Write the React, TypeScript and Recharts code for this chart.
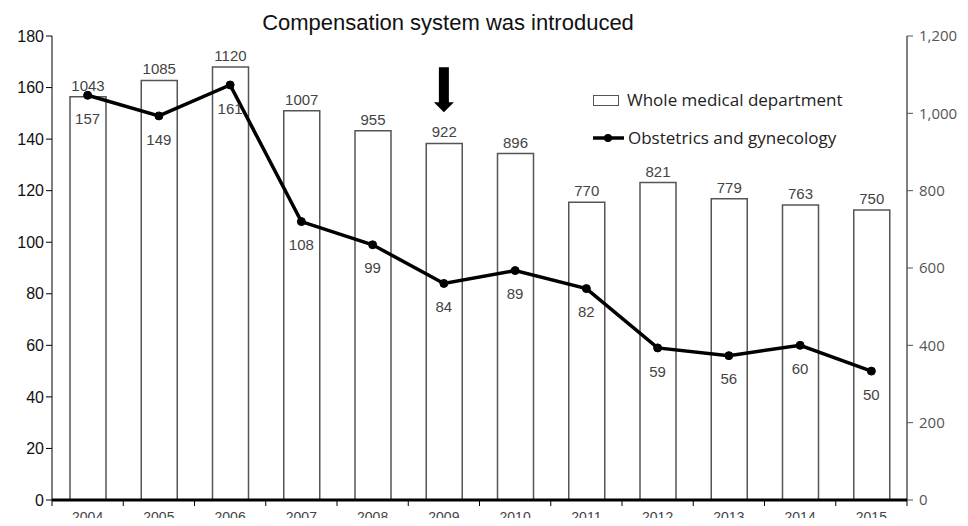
import {
  Bar,
  ComposedChart,
  LabelList,
  Line,
  ReferenceDot,
  XAxis,
  YAxis,
} from "recharts";

const years = ["2004", "2005", "2006", "2007", "2008", "2009", "2010", "2011", "2012", "2013", "2014", "2015"];
const wholeDept = [1043, 1085, 1120, 1007, 955, 922, 896, 770, 821, 779, 763, 750];
const obgyn = [157, 149, 161, 108, 99, 84, 89, 82, 59, 56, 60, 50];
const leftTicks = [0, 20, 40, 60, 80, 100, 120, 140, 160, 180];
const rightTicks = [0, 200, 400, 600, 800, 1000, 1200];
const introducedYear = "2009";

const data = years.map((year, i) => ({ year, whole: wholeDept[i], obgyn: obgyn[i] }));

const W = 968;
const H = 526;
const LEFT_W = 52;
const RIGHT_W = 61;
const X_H = 26;
const BAND = (W - LEFT_W - RIGHT_W) / years.length;

const ARIAL = "'Liberation Sans', Arial, sans-serif";
const SEGOE = "'Open Sans', 'Noto Sans', sans-serif";

function YearTick(props: any) {
  const { x, payload, index } = props;
  const axisY = H - X_H;
  const last = index === years.length - 1;
  return (
    <g>
      <line x1={x - BAND / 2} x2={x - BAND / 2} y1={axisY} y2={axisY + 6} stroke="#000" strokeWidth={1} />
      {last && (
        <line x1={x + BAND / 2} x2={x + BAND / 2} y1={axisY} y2={axisY + 6} stroke="#000" strokeWidth={1} />
      )}
      <text x={x} y={axisY + 22} textAnchor="middle" fill="#444" fontSize={14} fontFamily={ARIAL}>
        {payload.value}
      </text>
    </g>
  );
}

function Arrow(props: any) {
  const { cx, cy } = props;
  if (cx == null || cy == null) return null;
  return (
    <polygon
      points={`${cx - 5},${cy - 45} ${cx + 5},${cy - 45} ${cx + 5},${cy - 10} ${cx + 10},${cy - 10} ${cx},${cy} ${cx - 10},${cy - 10} ${cx - 5},${cy - 10}`}
      fill="#000"
    />
  );
}

function ChartLegend() {
  return (
    <div
      style={{
        position: "absolute",
        left: 593,
        top: 90,
        fontFamily: SEGOE,
        fontSize: 17,
        color: "#222",
        lineHeight: "20px",
        zIndex: 1,
      }}
    >
      <div style={{ display: "flex", alignItems: "center", height: 20 }}>
        <span style={{ display: "inline-block", width: 24, height: 9, border: "1px solid #555", background: "#fff", marginRight: 8 }} />
        Whole medical department
      </div>
      <div style={{ display: "flex", alignItems: "center", height: 20, marginTop: 18 }}>
        <svg width={31} height={10} style={{ marginRight: 4 }}>
          <line x1={0} x2={31} y1={5} y2={5} stroke="#000" strokeWidth={3.5} />
          <circle cx={15} cy={5} r={4} fill="#000" />
        </svg>
        Obstetrics and gynecology
      </div>
    </div>
  );
}

export default function App() {
  return (
    <div style={{ position: "relative", width: W, height: H, margin: -8, background: "#fff" }}>
      <div
        style={{
          position: "absolute",
          left: 0,
          width: 896,
          top: 9,
          textAlign: "center",
          fontFamily: ARIAL,
          fontSize: 22,
          color: "#111",
          lineHeight: "28px",
          zIndex: 1,
        }}
      >
        Compensation system was introduced
      </div>
      <ChartLegend />
      <ComposedChart
        width={W}
        height={H}
        data={data}
        margin={{ top: 36, right: 0, bottom: 0, left: 0 }}
        style={{ fontFamily: ARIAL }}
      >
        <XAxis
          dataKey="year"
          height={X_H}
          axisLine={{ stroke: "#000", strokeWidth: 3 }}
          tickLine={false}
          tick={<YearTick />}
          interval={0}
        />
        <YAxis
          yAxisId="left"
          orientation="left"
          width={LEFT_W}
          domain={[0, 180]}
          ticks={leftTicks}
          interval={0}
          axisLine={{ stroke: "#000" }}
          tickLine={{ stroke: "#000" }}
          tickSize={6}
          tick={{ fill: "#111", fontSize: 16, fontFamily: ARIAL }}
        />
        <YAxis
          yAxisId="right"
          orientation="right"
          width={RIGHT_W}
          domain={[0, 1200]}
          ticks={rightTicks}
          interval={0}
          axisLine={{ stroke: "#000" }}
          tickLine={{ stroke: "#555" }}
          tickSize={6}
          tickMargin={6}
          tickFormatter={(v: number) => v.toLocaleString("en-US")}
          tick={{ fill: "#555", fontSize: 15, fontFamily: SEGOE }}
        />
        <Bar
          yAxisId="right"
          dataKey="whole"
          name="Whole medical department"
          fill="#fff"
          stroke="#555"
          strokeWidth={1.5}
          barSize={36}
          isAnimationActive={false}
        >
          <LabelList dataKey="whole" position="top" offset={6} fill="#444" fontSize={15} fontFamily={ARIAL} />
        </Bar>
        <Line
          yAxisId="left"
          dataKey="obgyn"
          name="Obstetrics and gynecology"
          type="linear"
          stroke="#000"
          strokeWidth={3.5}
          dot={{ r: 4, fill: "#000", stroke: "#000", strokeWidth: 1 }}
          activeDot={false}
          isAnimationActive={false}
        >
          <LabelList dataKey="obgyn" position="bottom" offset={18} fill="#444" fontSize={15} fontFamily={ARIAL} />
        </Line>
        <ReferenceDot yAxisId="right" x={introducedYear} y={1003} shape={<Arrow />} ifOverflow="visible" />
      </ComposedChart>
    </div>
  );
}
